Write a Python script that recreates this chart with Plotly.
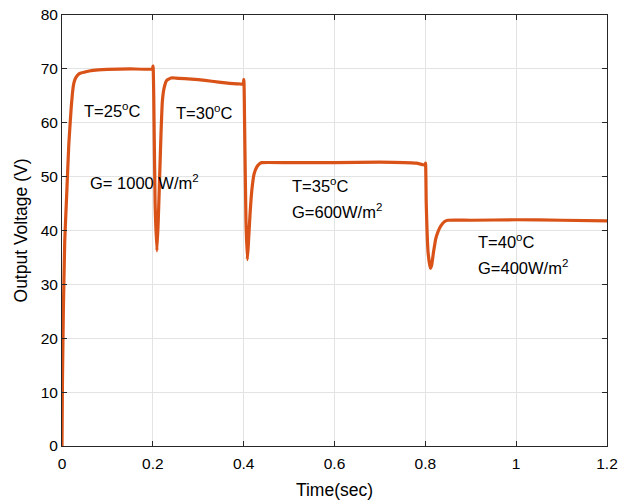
import plotly.graph_objects as go

time = [0, 0.001, 0.003, 0.006, 0.01, 0.015, 0.02, 0.023, 0.026, 0.03, 0.035, 0.04, 0.05, 0.06, 0.08, 0.1, 0.15, 0.199,
        0.2005, 0.202, 0.205, 0.209, 0.212, 0.215, 0.218, 0.221, 0.225, 0.23, 0.24, 0.25, 0.27, 0.3,
        0.33, 0.36, 0.39, 0.399, 0.4005, 0.402, 0.405, 0.408, 0.41, 0.414, 0.418, 0.423, 0.429, 0.435, 0.44,
        0.5, 0.6, 0.7, 0.78, 0.795, 0.7995, 0.8005, 0.802, 0.806, 0.811, 0.814, 0.818, 0.823, 0.828, 0.833,
        0.838, 0.843, 0.85, 0.9, 1.0, 1.1, 1.2]
voltage = [0, 12, 25, 38, 46, 56, 62.5, 65.5, 67.3, 68.3, 68.9, 69.2, 69.4, 69.6, 69.8, 69.9, 70.0, 70.0,
           70.5, 65, 45, 36.2, 42, 50, 58, 64, 66.5, 67.8, 68.3, 68.3, 68.2, 68.0,
           67.7, 67.4, 67.2, 67.2, 68.0, 60, 42, 34.6, 37, 43, 47.5, 50.5, 51.8, 52.4, 52.6,
           52.6, 52.6, 52.7, 52.5, 52.2, 52.2, 52.5, 45, 36, 33.0, 33.6, 36, 38.5, 39.8, 40.7,
           41.3, 41.7, 41.9, 41.9, 42.0, 41.9, 41.8]

x_ticks = [0, 0.2, 0.4, 0.6, 0.8, 1, 1.2]
x_tick_labels = ["0", "0.2", "0.4", "0.6", "0.8", "1", "1.2"]
y_ticks = [0, 10, 20, 30, 40, 50, 60, 70, 80]

labels = ["T=25<sup>o</sup>C", "T=30<sup>o</sup>C", "G= 1000 W/m<sup>2</sup>",
          "T=35<sup>o</sup>C", "G=600W/m<sup>2</sup>", "T=40<sup>o</sup>C", "G=400W/m<sup>2</sup>"]
label_x = [0.045, 0.247, 0.058, 0.501, 0.501, 0.912, 0.912]
label_y = [62.4, 62.0, 49.0, 48.5, 43.6, 38.1, 33.2]

font = "Liberation Sans, Arial, Helvetica, sans-serif"

fig = go.Figure()
fig.add_trace(go.Scatter(x=time, y=voltage, mode="lines",
                         line=dict(color="#D95319", width=3.2, shape="spline", smoothing=0.4),
                         showlegend=False))

for t, lx, ly in zip(labels, label_x, label_y):
    fig.add_annotation(x=lx, y=ly, xref="x", yref="y", text=t, showarrow=False,
                       xanchor="left", yanchor="middle",
                       font=dict(family=font, size=16.5, color="#000000"))

axis_common = dict(showline=True, linecolor="#262626", linewidth=1, mirror="ticks",
                   ticks="inside", ticklen=5, tickcolor="#262626", automargin=False,
                   showgrid=True, gridcolor="#e3e3e3", gridwidth=1, zeroline=False,
                   tickfont=dict(family=font, size=15.5, color="#000000"))

fig.update_xaxes(range=[0, 1.2], tickvals=x_ticks, ticktext=x_tick_labels, ticklabelstandoff=3,
                 title=dict(text="Time(sec)", font=dict(family=font, size=17.5, color="#000000"),
                            standoff=15), **axis_common)
fig.update_yaxes(range=[0, 80], tickvals=y_ticks,
                 title=dict(text="Output Voltage (V)", font=dict(family=font, size=17.5, color="#000000"),
                            standoff=8), **axis_common)

fig.update_layout(width=618, height=500, margin=dict(l=62, r=11, t=15, b=54),
                  plot_bgcolor="white", paper_bgcolor="white", font=dict(family=font))

fig.write_html("out.html")
